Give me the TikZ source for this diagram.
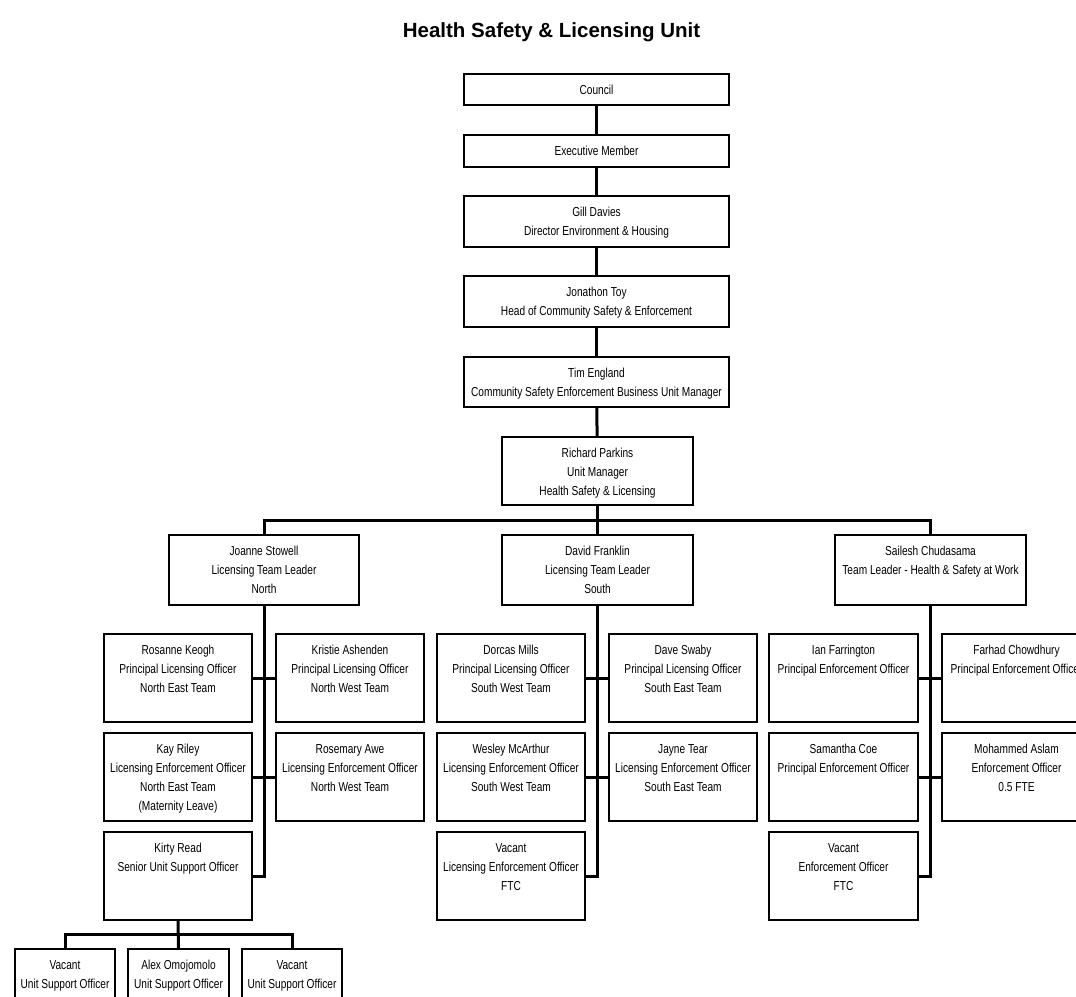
\documentclass[tikz,border=0pt]{standalone}
\usepackage{fontspec}
\setmainfont{Liberation Sans}
\newfontfamily\boxfont[FakeStretch=0.78]{Liberation Sans}
\tikzset{
  box/.style={draw, line width=2pt, inner sep=0pt, anchor=north west, fill=white},
  link/.style={line width=3pt, line join=miter},
  titletext/.style={font=\fontsize{20.5}{24}\selectfont\bfseries, inner sep=0pt}
}
\newcommand\bx[6]{\node[box] (#1) at (#2,#3) {\parbox[c][#5pt][t]{#4pt}{\boxfont\fontsize{13}{19}\selectfont\centering\rule{0pt}{20.5pt}#6\par}};}
\begin{document}
\begin{tikzpicture}[x=1pt,y=-1pt]
\useasboundingbox (0,0) rectangle (1076,996);
\clip (0,0) rectangle (1076,996);
\node[titletext] (title) at (551.5,32) {Health Safety \& Licensing Unit};
% top chain
\bx{council}{463}{73}{265}{31}{Council}
\bx{exec}{463}{134}{265}{32}{Executive Member}
\bx{gill}{463}{195}{265}{51}{Gill Davies\\Director Environment \& Housing}
\bx{jon}{463}{275}{265}{51}{Jonathon Toy\\Head of Community Safety \& Enforcement}
\bx{tim}{463}{356}{265}{50}{Tim England\\Community Safety Enforcement Business Unit Manager}
\bx{rp}{501}{436}{191}{68}{Richard Parkins\\Unit Manager\\Health Safety \& Licensing}
% team leaders
\bx{js}{168}{534}{190}{70}{Joanne Stowell\\Licensing Team Leader\\North}
\bx{df}{501}{534}{191}{70}{David Franklin\\Licensing Team Leader\\South}
\bx{sc}{834}{534}{191}{70}{Sailesh Chudasama\\Team Leader - Health \& Safety at Work}
% north
\bx{rk}{103}{633}{148}{88}{Rosanne Keogh\\Principal Licensing Officer\\North East Team}
\bx{ka}{275}{633}{148}{88}{Kristie Ashenden\\Principal Licensing Officer\\North West Team}
\bx{kr}{103}{732}{148}{88}{Kay Riley\\Licensing Enforcement Officer\\North East Team\\(Maternity Leave)}
\bx{ra}{275}{732}{148}{88}{Rosemary Awe\\Licensing Enforcement Officer\\North West Team}
\bx{kir}{103}{831}{148}{88}{Kirty Read\\Senior Unit Support Officer}
% south
\bx{dm}{436}{633}{148}{88}{Dorcas Mills\\Principal Licensing Officer\\South West Team}
\bx{ds}{608}{633}{148}{88}{Dave Swaby\\Principal Licensing Officer\\South East Team}
\bx{wm}{436}{732}{148}{88}{Wesley McArthur\\Licensing Enforcement Officer\\South West Team}
\bx{jt}{608}{732}{148}{88}{Jayne Tear\\Licensing Enforcement Officer\\South East Team}
\bx{vs}{436}{831}{148}{88}{Vacant\\Licensing Enforcement Officer\\FTC}
% health & safety
\bx{ifa}{768}{633}{149}{88}{Ian Farrington\\Principal Enforcement Officer}
\bx{fc}{941}{633}{149}{88}{Farhad Chowdhury\\Principal Enforcement Officer}
\bx{sco}{768}{732}{149}{88}{Samantha Coe\\Principal Enforcement Officer}
\bx{ma}{941}{732}{149}{88}{Mohammed Aslam\\Enforcement Officer\\0.5 FTE}
\bx{vh}{768}{831}{149}{88}{Vacant\\Enforcement Officer\\FTC}
% unit support
\bx{us1}{14}{948}{100}{88}{Vacant\\Unit Support Officer}
\bx{us2}{127}{948}{101}{88}{Alex Omojomolo\\Unit Support Officer}
\bx{us3}{241}{948}{100}{88}{Vacant\\Unit Support Officer}
% connectors
\coordinate (bar) at (596,520);
\coordinate (kbar) at (177,934);
\draw[link] (council) -- (exec);
\draw[link] (exec) -- (gill);
\draw[link] (gill) -- (jon);
\draw[link] (jon) -- (tim);
\draw[link] (tim) -- (rp);
\draw[link] (rp.south) -- (df.north);
\draw[link] (js.north) |- (bar) -| (sc.north);
\draw[link] (js.south) |- (kir.east);
\draw[link] (rk.east) -- (ka.west);
\draw[link] (kr.east) -- (ra.west);
\draw[link] (df.south) |- (vs.east);
\draw[link] (dm.east) -- (ds.west);
\draw[link] (wm.east) -- (jt.west);
\draw[link] (sc.south) |- (vh.east);
\draw[link] (ifa.east) -- (fc.west);
\draw[link] (sco.east) -- (ma.west);
\draw[link] (kir.south) -- (us2.north);
\draw[link] (us1.north) |- (kbar) -| (us3.north);
\end{tikzpicture}
\end{document}
